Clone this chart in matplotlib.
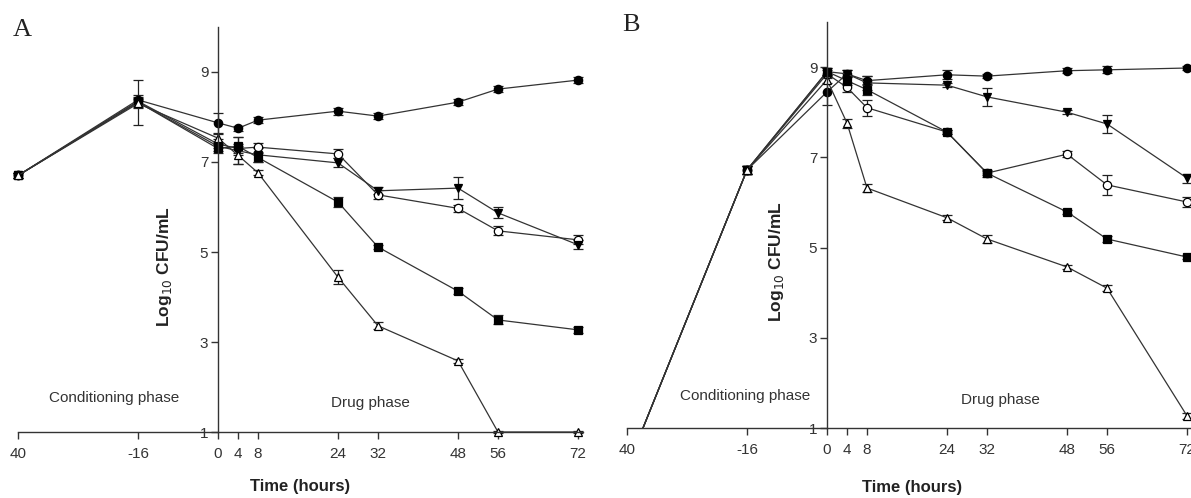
import matplotlib.pyplot as plt
from matplotlib.patches import Rectangle

plt.rcParams['font.family'] = ['Liberation Sans', 'DejaVu Sans']

hours = [-40, -16, 0, 4, 8, 24, 32, 48, 56, 72]
tick_labels = ['40', '-16', '0', '4', '8', '24', '32', '48', '56', '72']
y_ticks = [1, 3, 5, 7, 9]

# panel A
a_ctrl = [6.7, 8.38, 7.87, 7.75, 7.93, 8.13, 8.02, 8.33, 8.62, 8.82]
a_ocirc = [6.7, 8.35, 7.40, 7.30, 7.33, 7.18, 6.27, 5.97, 5.47, 5.27]
a_itri = [6.7, 8.33, 7.35, 7.25, 7.16, 6.98, 6.36, 6.42, 5.87, 5.16]
a_sq = [6.7, 8.33, 7.30, 7.35, 7.10, 6.11, 5.11, 4.13, 3.49, 3.27]
a_otri = [6.7, 8.30, 7.53, 7.15, 6.76, 4.44, 3.36, 2.58, 1.0, 1.0]
a_ctrl_err = [0.05, 0.10, 0.22, 0.06, 0.07, 0.08, 0.06, 0.06, 0.07, 0.06]
a_ocirc_err = [0.05, 0.10, 0.10, 0.10, 0.10, 0.10, 0.10, 0.08, 0.10, 0.10]
a_itri_err = [0.05, 0.10, 0.10, 0.30, 0.15, 0.10, 0.08, 0.25, 0.12, 0.10]
a_sq_err = [0.05, 0.50, 0.10, 0.20, 0.10, 0.12, 0.05, 0.06, 0.10, 0.06]
a_otri_err = [0.05, 0.10, 0.10, 0.20, 0.06, 0.15, 0.08, 0.05, 0.02, 0.02]

# panel B
b_ctrl = [0.12, 6.72, 8.45, 8.85, 8.70, 8.83, 8.80, 8.92, 8.94, 8.98]
b_itri = [0.12, 6.72, 8.90, 8.85, 8.65, 8.60, 8.34, 8.00, 7.74, 6.54]
b_sq = [0.12, 6.72, 8.90, 8.70, 8.50, 7.56, 6.65, 5.79, 5.19, 4.79]
b_ocirc = [0.12, 6.72, 8.85, 8.55, 8.10, 7.56, 6.65, 7.07, 6.39, 6.01]
b_otri = [0.12, 6.72, 8.72, 7.76, 6.32, 5.66, 5.19, 4.57, 4.10, 1.27]
b_ctrl_err = [0.05, 0.08, 0.30, 0.08, 0.10, 0.10, 0.05, 0.06, 0.08, 0.05]
b_itri_err = [0.05, 0.08, 0.08, 0.08, 0.15, 0.05, 0.20, 0.05, 0.20, 0.10]
b_sq_err = [0.05, 0.08, 0.08, 0.10, 0.12, 0.05, 0.08, 0.05, 0.06, 0.05]
b_ocirc_err = [0.05, 0.08, 0.08, 0.10, 0.18, 0.05, 0.05, 0.06, 0.22, 0.12]
b_otri_err = [0.05, 0.08, 0.08, 0.10, 0.08, 0.06, 0.08, 0.05, 0.06, 0.06]

styles = [('o', 'black'), ('o', 'white'), ('v', 'black'), ('s', 'black'), ('^', 'white')]

fig = plt.figure(figsize=(11.91, 4.98), dpi=100)
W, H = 1191.0, 498.0
XMIN, XMAX = -42, 74
YMIN, YMAX = 0.8, 10


def make_axes(x_zero, y_one, y_ten):
    # 5 px per hour; y_one / y_ten are the pixel rows of values 1 and 10
    ppu = (y_one - y_ten) / 9.0
    left = x_zero + XMIN * 5
    bottom = y_one + (1 - YMIN) * ppu
    top = y_ten - (YMAX - 10) * ppu
    return fig.add_axes([left / W, 1 - bottom / H, (XMAX - XMIN) * 5 / W, (bottom - top) / H])


def draw_panel(ax, series, errs, letter, cond_pos, drug_pos, ylab_pos, time_pos, clip_low):
    clip_rect = Rectangle((XMIN, 1), XMAX - XMIN, 10, transform=ax.transData)
    for (m, fc), y, e in zip(styles, series, errs):
        cont = ax.errorbar(hours, y, yerr=e, color='#333333', lw=0.9, marker=m, ms=6,
                           mfc=fc, mec='black', mew=0.9, ecolor='#222222', elinewidth=0.9,
                           capsize=3.5, capthick=0.9)
        if clip_low:
            cont.lines[0].set_clip_path(clip_rect)
            for art in cont.lines[1] + cont.lines[2]:
                art.set_clip_path(clip_rect)
    ax.set_xlim(XMIN, XMAX)
    ax.set_ylim(YMIN, YMAX)
    for s in ['top', 'right']:
        ax.spines[s].set_visible(False)
    ax.spines['left'].set_position(('data', 0))
    ax.spines['left'].set_bounds(1, 10)
    ax.spines['bottom'].set_position(('data', 1))
    ax.spines['bottom'].set_bounds(-40, 73)
    for s in ['left', 'bottom']:
        ax.spines[s].set_color('#333333')
        ax.spines[s].set_linewidth(1.0)
    ax.set_xticks(hours)
    ax.set_xticklabels(tick_labels)
    ax.set_yticks(y_ticks)
    ax.tick_params(axis='both', direction='out', length=5, width=1.0, colors='#333333',
                   labelsize=11, labelcolor='#333333')
    ax.tick_params(axis='y', pad=2)
    ax.tick_params(axis='x', pad=6)
    ax.text(cond_pos[0], cond_pos[1], 'Conditioning phase', ha='center', va='center',
            fontsize=11, color='#333333')
    ax.text(drug_pos[0], drug_pos[1], 'Drug phase', ha='center', va='center',
            fontsize=11, color='#333333')
    ax.text(ylab_pos[0], ylab_pos[1], 'Log$_{10}$ CFU/mL', rotation=90, ha='center',
            va='center', fontsize=12.5, fontweight='bold', color='#222222')
    ax.text(time_pos[0], time_pos[1], 'Time (hours)', ha='center', va='center',
            fontsize=12, fontweight='bold', color='#222222', clip_on=False)
    ax.text(-41, 9.8, letter, ha='left', va='baseline', fontsize=19,
            family='Liberation Serif', color='#222222', clip_on=False)


ax_a = make_axes(218, 432, 27)
draw_panel(ax_a, [a_ctrl, a_ocirc, a_itri, a_sq, a_otri],
           [a_ctrl_err, a_ocirc_err, a_itri_err, a_sq_err, a_otri_err],
           'A', (-20.8, 1.76), (30.4, 1.64), (-10.6, 4.67), (16.4, -0.22), False)

ax_b = make_axes(827, 428, 22)
draw_panel(ax_b, [b_ctrl, b_ocirc, b_itri, b_sq, b_otri],
           [b_ctrl_err, b_ocirc_err, b_itri_err, b_sq_err, b_otri_err],
           'B', (-16.4, 1.71), (34.6, 1.62), (-10.0, 4.7), (17.0, -0.33), True)

fig.savefig('out.png', dpi=100)
